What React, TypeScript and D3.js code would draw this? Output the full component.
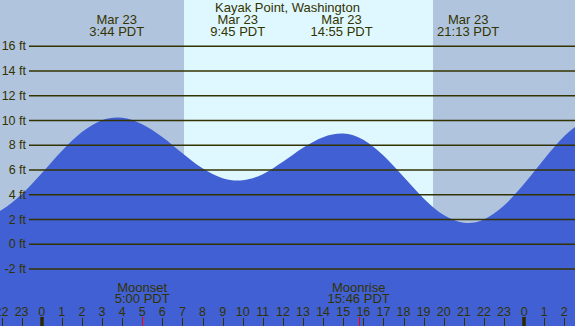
import React from "react";
import * as d3 from "d3";

// hours relative to Mar 23 00:00 PDT
const sampleHours = [-3, -2, -1, 0, 1, 2, 3, 3.733, 4, 5, 6, 7, 8, 9, 9.75, 10, 11, 12, 13, 14, 14.917, 15, 16, 17, 18, 19, 20, 21, 21.217, 22, 23, 24, 25, 26, 27];
const sampleHeights = [2.22, 2.78, 4.04, 5.74, 7.54, 9.07, 10.03, 10.25, 10.23, 9.71, 8.67, 7.36, 6.14, 5.34, 5.15, 5.17, 5.67, 6.67, 7.8, 8.66, 8.95, 8.95, 8.44, 7.17, 5.46, 3.71, 2.36, 1.74, 1.72, 2.01, 3.13, 4.89, 6.9, 8.75, 10.04];

const tideHours = [3.733, 9.75, 14.917, 21.217];
const tideDates = ["Mar 23", "Mar 23", "Mar 23", "Mar 23"];
const tideTimes = ["3:44 PDT", "9:45 PDT", "14:55 PDT", "21:13 PDT"];

const moonHours = [5.0, 15.767];
const moonEvents = ["Moonset", "Moonrise"];
const moonTimes = ["5:00 PDT", "15:46 PDT"];

const sunrise = 7.08;
const sunset = 19.467;

const yTicks = [-2, 0, 2, 4, 6, 8, 10, 12, 14, 16];
const hourTicks = d3.range(-2, 27);

const title = "Kayak Point, Washington";

const W = 575;
const H = 326;
const TEXT = "#333300";
const FONT = "'Liberation Sans', Arial, sans-serif";

export default function App() {
  const x = d3.scaleLinear().domain([-2.075, 26.53]).range([0, W]);
  const y = d3.scaleLinear().domain([-2, 16]).range([269.05, 46.3]);

  const pts: [number, number][] = sampleHours.map((h, i) => [h, sampleHeights[i]]);
  const area = d3
    .area<[number, number]>()
    .x((d) => x(d[0]))
    .y0(H)
    .y1((d) => y(d[1]))
    .curve(d3.curveMonotoneX);

  return (
    <svg
      width={W}
      height={H}
      style={{ position: "absolute", left: 0, top: 0, fontFamily: FONT }}
    >
      <rect x={0} y={0} width={W} height={H} fill="#b0c4de" />
      <rect x={x(sunrise)} y={0} width={x(sunset) - x(sunrise)} height={H} fill="#dff8ff" />
      <path d={area(pts) || ""} fill="#4160d4" />
      {yTicks.map((t) => (
        <g key={t}>
          <line x1={29} x2={W} y1={y(t)} y2={y(t)} stroke={TEXT} strokeWidth={1.5} />
          <text x={26} y={y(t) + 4} textAnchor="end" fontSize={12.5} fill={TEXT}>
            {t} ft
          </text>
        </g>
      ))}
      <text x={W / 2} y={12} textAnchor="middle" fontSize={13} fill={TEXT}>
        {title}
      </text>
      {tideHours.map((h, i) => (
        <g key={h}>
          <text x={x(h)} y={24} textAnchor="middle" fontSize={13} fill={TEXT}>
            {tideDates[i]}
          </text>
          <text x={x(h)} y={36} textAnchor="middle" fontSize={13} fill={TEXT}>
            {tideTimes[i]}
          </text>
        </g>
      ))}
      {hourTicks.map((h) => {
        const mid = ((h % 24) + 24) % 24 === 0;
        const xx = Math.round(x(h)) + (mid ? 0 : 0.5);
        return (
          <g key={h}>
            <line
              x1={xx}
              x2={xx}
              y1={mid ? 317 : 318}
              y2={H}
              stroke={mid ? "#2a2a00" : TEXT}
              strokeWidth={mid ? 3.5 : 1}
            />
            <text x={x(h)} y={316} textAnchor="middle" fontSize={12.5} fill={TEXT}>
              {((h % 24) + 24) % 24}
            </text>
          </g>
        );
      })}
      {moonHours.map((h, i) => (
        <g key={h}>
          <line x1={Math.round(x(h)) + 0.5} x2={Math.round(x(h)) + 0.5} y1={317} y2={H} stroke="#ff0000" strokeWidth={1} />
          <text x={x(h)} y={291.7} textAnchor="middle" fontSize={13} fill={TEXT}>
            {moonEvents[i]}
          </text>
          <text x={x(h)} y={303.3} textAnchor="middle" fontSize={13} fill={TEXT}>
            {moonTimes[i]}
          </text>
        </g>
      ))}
    </svg>
  );
}
